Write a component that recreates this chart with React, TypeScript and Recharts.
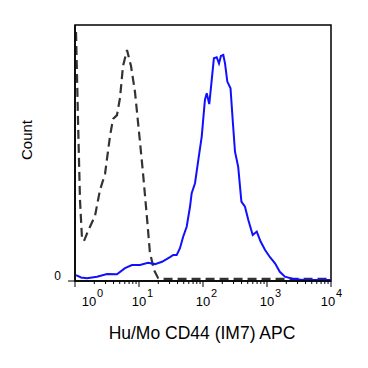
import { LineChart, Line, XAxis, YAxis, ReferenceArea } from "recharts";

// x = log10 of APC intensity (0 = 10^0 ... 4 = 10^4), y = % of max count
const isotypeLog = [
  0.016, 0.047, 0.078, 0.109, 0.14, 0.203, 0.3125, 0.39, 0.469, 0.547, 0.594, 0.656,
  0.703, 0.75, 0.8125, 0.875, 0.9375, 1.0, 1.0625, 1.125, 1.17, 1.234, 1.297, 1.36,
  2.0, 3.0, 4.0,
];
const isotypeCount = [
  97.3, 62.9, 31.6, 16.8, 15.6, 19.5, 25.4, 35.5, 41.8, 56.6, 63.3, 64.8,
  71.5, 84, 90.2, 84, 73.8, 58.2, 42.2, 24.6, 11.3, 4.3, 1.2, 0.8,
  0.8, 0.8, 0.8,
];

const cd44Log = [
  0.016, 0.094, 0.1875, 0.344, 0.5, 0.656, 0.781, 0.89, 1.016, 1.14, 1.25, 1.36,
  1.484, 1.536, 1.589, 1.64, 1.69, 1.745, 1.797, 1.823, 1.875, 1.927, 1.98, 2.03,
  2.058, 2.098, 2.136, 2.17, 2.214, 2.25, 2.28, 2.317, 2.344, 2.38, 2.43, 2.464,
  2.5, 2.55, 2.6, 2.656, 2.708, 2.777, 2.84, 2.9, 2.97, 3.047, 3.125, 3.2,
  3.28, 3.41, 3.57, 4.0,
];
const cd44Count = [
  2.3, 1.4, 1.05, 1.7, 2.7, 2.6, 5.0, 6.25, 6.25, 7.1, 6.6, 7.5,
  9.3, 10.2, 10.2, 12.8, 17.3, 21.2, 29.0, 34.3, 38.2, 47.3, 56.4, 70.7,
  73.3, 69.1, 78.5, 87.0, 87.4, 85.0, 87.9, 88.3, 85.0, 77.9, 75.3, 62.9,
  50.5, 44.6, 31.0, 29.0, 23.8, 18.0, 19.3, 15.4, 12.1, 9.3, 6.9, 3.6,
  1.7, 0.8, 0.4, 0.4,
];

const decades = [0, 1, 2, 3, 4];
const minorSteps = [2, 3, 4, 5, 6, 7, 8, 9];

const isotype = isotypeLog.map((u, i) => ({ u, count: isotypeCount[i] }));
const cd44 = cd44Log.map((u, i) => ({ u, count: cd44Count[i] }));

const minorTicks = decades.slice(0, -1).flatMap((d) => minorSteps.map((m) => d + Math.log10(m)));
const xTicks = [...decades, ...minorTicks].sort((a, b) => a - b);

const font = "Arial, 'Liberation Sans', sans-serif";

function DecadeTick(props: any) {
  const { x, y, payload } = props;
  const v = payload.value;
  const major = decades.includes(v);
  // first label is nudged right like the FlowJo export
  const shift = v === 0 ? 14 : v === 4 ? -3 : 0;
  return (
    <g>
      <line x1={x} y1={y} x2={x} y2={y + (major ? 6 : 3)} stroke="#000" strokeWidth={1} />
      {major && (
        <g fontFamily={font} fill="#000">
          <text x={x + shift} y={y + 25} textAnchor="middle" fontSize={13}>10</text>
          <text x={x + shift + 8} y={y + 16} fontSize={11}>{v}</text>
        </g>
      )}
    </g>
  );
}

function ZeroTick(props: any) {
  const { x, y, payload } = props;
  return (
    <text x={x - 5} y={y - 1} textAnchor="end" fontSize={12} fontFamily={font} fill="#000">
      {payload.value}
    </text>
  );
}

export default function App() {
  return (
    <div style={{ position: "absolute", left: 0, top: 0, width: 368, height: 368, background: "#fff" }}>
      <LineChart width={368} height={368} margin={{ top: 25, right: 37, left: 15, bottom: 0 }}>
        <XAxis
          xAxisId="main"
          dataKey="u"
          type="number"
          domain={[0, 4]}
          ticks={xTicks}
          interval={0}
          height={87}
          tickSize={0}
          tickMargin={0}
          tickLine={false}
          tick={<DecadeTick />}
          axisLine={{ stroke: "#000", strokeWidth: 1.5 }}
          allowDataOverflow
        />
        <YAxis
          yAxisId="main"
          type="number"
          domain={[0, 100]}
          ticks={[0]}
          width={60}
          tickSize={7}
          tickLine={{ stroke: "#000" }}
          tick={<ZeroTick />}
          axisLine={{ stroke: "#000", strokeWidth: 1.5 }}
          allowDataOverflow
        />
        <ReferenceArea
          xAxisId="main"
          yAxisId="main"
          x1={0}
          x2={4}
          y1={0}
          y2={100}
          fill="none"
          stroke="#000"
          strokeWidth={1.5}
          ifOverflow="visible"
        />
        <Line
          xAxisId="main"
          yAxisId="main"
          data={isotype}
          dataKey="count"
          type="linear"
          stroke="#333"
          strokeWidth={2.2}
          strokeDasharray="9 5"
          dot={false}
          isAnimationActive={false}
        />
        <Line
          xAxisId="main"
          yAxisId="main"
          data={cd44}
          dataKey="count"
          type="linear"
          stroke="#1010ff"
          strokeWidth={2}
          dot={false}
          isAnimationActive={false}
        />
      </LineChart>
      <div
        style={{
          position: "absolute",
          left: 3,
          top: 130,
          width: 48,
          height: 20,
          lineHeight: "20px",
          textAlign: "center",
          fontFamily: font,
          fontSize: 15,
          transform: "rotate(-90deg)",
        }}
      >
        Count
      </div>
      <div
        style={{
          position: "absolute",
          left: 52,
          top: 325,
          width: 300,
          lineHeight: "17px",
          textAlign: "center",
          fontFamily: font,
          fontSize: 17.5,
        }}
      >
        Hu/Mo CD44 (IM7) APC
      </div>
    </div>
  );
}
